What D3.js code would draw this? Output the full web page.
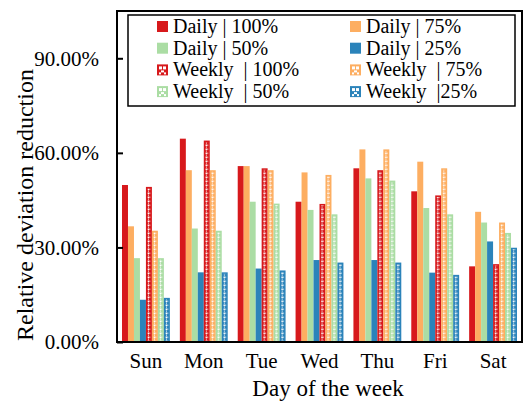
<!DOCTYPE html>
<html>
<head>
<meta charset="utf-8">
<script src="https://cdn.jsdelivr.net/npm/d3@7"></script>
<style>
  body { margin: 0; background: #fff; }
  text { font-family: "Liberation Serif", "Times New Roman", serif; fill: #000; }
</style>
</head>
<body>
<script>
const days = ['Sun', 'Mon', 'Tue', 'Wed', 'Thu', 'Fri', 'Sat']

// one array per series, values in %
const daily100  = [49.8, 64.5, 55.8, 44.5, 55.1, 47.8, 24.0]
const daily75   = [36.7, 54.5, 55.8, 53.8, 61.1, 57.2, 41.3]
const daily50   = [26.6, 36.0, 44.5, 41.9, 51.9, 42.5, 37.9]
const daily25   = [13.4, 22.1, 23.3, 26.0, 26.0, 22.0, 31.9]
const weekly100 = [49.2, 63.9, 55.1, 43.8, 54.5, 46.5, 24.7]
const weekly75  = [35.3, 54.5, 54.5, 53.0, 61.1, 55.1, 37.9]
const weekly50  = [26.6, 35.3, 43.9, 40.5, 51.2, 40.5, 34.6]
const weekly25  = [14.0, 22.1, 22.7, 25.2, 25.2, 21.3, 29.9]

const seriesNames = ['Daily | 100%', 'Daily | 75%', 'Daily | 50%', 'Daily | 25%',
                     'Weekly  | 100%', 'Weekly  | 75%', 'Weekly  | 50%', 'Weekly  |25%']
const seriesValues = [daily100, daily75, daily50, daily25, weekly100, weekly75, weekly50, weekly25]
const colors = ['#d7191c', '#fdae61', '#abdda4', '#2b83ba']
const yTicks = [0, 0.3, 0.6, 0.9]

const [width, height] = [525, 405]
const margin = {top: 11, right: 3, bottom: 63, left: 117}

const series = seriesNames.map((name, i) => ({
    name: name,
    weekly: i >= 4,
    color: colors[i % 4],
    values: seriesValues[i]
}))

const svg = d3.select('body').append('svg')
    .attr('width', width)
    .attr('height', height)

const x0 = d3.scaleBand()
    .domain(days)
    .range([margin.left, width - margin.right])

const x1 = d3.scaleBand()
    .domain(d3.range(series.length))
    .range([5, x0.bandwidth() - 5])

const y = d3.scaleLinear()
    .domain([0, 1.05])
    .range([height - margin.bottom, margin.top])

// white dotted look for the weekly bars
const defs = svg.append('defs')
colors.forEach((c, i) => {
    const p = defs.append('pattern')
        .attr('id', 'pat' + i)
        .attr('patternUnits', 'userSpaceOnUse')
        .attr('width', 3)
        .attr('height', 4)
    p.append('rect').attr('width', 3).attr('height', 4).attr('fill', c)
    p.append('rect').attr('x', 0.5).attr('y', 0.5).attr('width', 2).attr('height', 1.6).attr('fill', '#fff')
    p.append('rect').attr('x', 1).attr('y', 2.6).attr('width', 1).attr('height', 1).attr('fill', '#fff')
})

const groups = svg.append('g')
    .selectAll('g')
    .data(days)
    .join('g')
        .attr('transform', d => `translate(${x0(d)},0)`)

groups.selectAll('g.bar')
    .data((d, di) => series.map((s, si) => ({s: s, si: si, v: s.values[di] / 100})))
    .join('g')
    .attr('class', 'bar')
    .each(function (d) {
        const g = d3.select(this)
        const bx = x1(d.si), bw = x1.bandwidth()
        const top = y(d.v), h = y(0) - y(d.v)
        g.append('rect')
            .attr('x', bx).attr('y', top)
            .attr('width', bw).attr('height', h)
            .attr('fill', d.s.color)
        if (d.s.weekly) {
            g.append('rect')
                .attr('x', bx + 1.5).attr('y', top + 1.5)
                .attr('width', bw - 3).attr('height', Math.max(0, h - 1.5))
                .attr('fill', `url(#pat${d.si % 4})`)
        }
    })

// y axis, ticks pointing inwards
svg.append('g')
    .attr('transform', `translate(${margin.left},0)`)
    .call(d3.axisLeft(y).tickValues(yTicks).tickFormat(d3.format('.2%')).tickSizeInner(-6).tickSizeOuter(0).tickPadding(18))
    .call(g => g.select('.domain').remove())
    .call(g => g.selectAll('line').attr('stroke', '#000').attr('stroke-width', 2))
    .call(g => g.selectAll('text').attr('font-size', 21).attr('font-family', 'Liberation Serif').attr('fill', '#000'))

svg.append('g')
    .attr('transform', `translate(0,${height - margin.bottom})`)
    .call(d3.axisBottom(x0).tickSize(0).tickPadding(11))
    .call(g => g.select('.domain').remove())
    .call(g => g.selectAll('text').attr('font-size', 21).attr('font-family', 'Liberation Serif').attr('fill', '#000'))

// plot frame
svg.append('rect')
    .attr('x', margin.left).attr('y', margin.top)
    .attr('width', width - margin.left - margin.right)
    .attr('height', height - margin.top - margin.bottom)
    .attr('fill', 'none')
    .attr('stroke', '#000')
    .attr('stroke-width', 2)

svg.append('text')
    .attr('transform', `translate(33,205) rotate(-90)`)
    .attr('text-anchor', 'middle')
    .attr('font-size', 24)
    .text('Relative deviation reduction')

svg.append('text')
    .attr('x', 328).attr('y', 396)
    .attr('text-anchor', 'middle')
    .attr('font-size', 23)
    .text('Day of the week')

// legend
const legend = svg.append('g')
legend.append('rect')
    .attr('x', 128).attr('y', 15)
    .attr('width', 387).attr('height', 91)
    .attr('fill', '#fff')
    .attr('stroke', '#000')
    .attr('stroke-width', 1.5)

const items = legend.selectAll('g.item')
    .data(series)
    .join('g')
    .attr('class', 'item')
    .attr('transform', (d, i) => `translate(${i % 2 ? 350 : 157},${33 + Math.floor(i / 2) * 21.7})`)

items.append('rect')
    .attr('y', -12).attr('width', 11).attr('height', 11)
    .attr('fill', d => d.color)

items.filter(d => d.weekly).each(function (d) {
    const g = d3.select(this)
    g.append('rect').attr('x', 2).attr('y', -10).attr('width', 3).attr('height', 3).attr('fill', '#fff')
    g.append('rect').attr('x', 6).attr('y', -10).attr('width', 3).attr('height', 3).attr('fill', '#fff')
    g.append('rect').attr('x', 4).attr('y', -6).attr('width', 3).attr('height', 2).attr('fill', '#fff')
    g.append('rect').attr('x', 2).attr('y', -4).attr('width', 2).attr('height', 2).attr('fill', '#fff')
    g.append('rect').attr('x', 7).attr('y', -4).attr('width', 2).attr('height', 2).attr('fill', '#fff')
})

items.append('text')
    .attr('x', 16)
    .attr('font-size', 20)
    .style('white-space', 'pre')
    .text(d => d.name)
</script>
</body>
</html>
